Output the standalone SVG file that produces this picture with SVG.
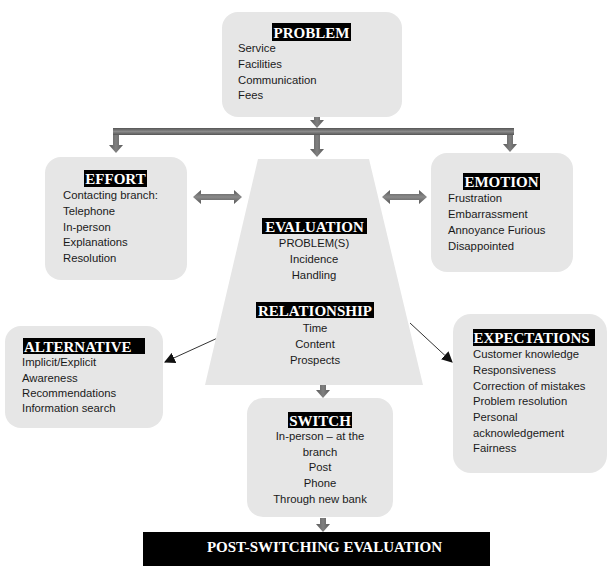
<svg xmlns="http://www.w3.org/2000/svg" width="608" height="566" viewBox="0 0 608 566">
<defs>
<linearGradient id="gv" x1="0" y1="0" x2="0" y2="1"><stop offset="0" stop-color="#555"/><stop offset="0.5" stop-color="#8a8a8a"/><stop offset="1" stop-color="#555"/></linearGradient>
<linearGradient id="gh" x1="0" y1="0" x2="1" y2="0"><stop offset="0" stop-color="#5a5a5a"/><stop offset="0.5" stop-color="#808080"/><stop offset="1" stop-color="#5a5a5a"/></linearGradient>
<marker id="ah" viewBox="0 0 10 10" refX="9" refY="5" markerWidth="11" markerHeight="11" markerUnits="userSpaceOnUse" orient="auto"><path d="M0,0 L10,5 L0,10 z" fill="#111"/></marker>
</defs>
<style>
.box{fill:#e6e6e6}
.hbg{fill:#000}
.h{font-family:"Liberation Serif","Times New Roman",serif;font-weight:bold;font-size:15px;fill:#fff}
.t{font-family:"Liberation Sans",Arial,sans-serif;font-size:11.3px;fill:#1a1a1a}
.c{text-anchor:middle}
.blk{fill:url(#gh)}
.dbl{fill:url(#gv)}
.ln{stroke:#333;stroke-width:1;fill:none}
</style>
<rect width="608" height="566" fill="#fff"/>

<g id="connectors">
<path class="blk" d="M314,116 L320,116 L320,120 L324,120 L317,128 L310,120 L314,120 Z"/>
<rect x="113" y="128" width="401" height="7" fill="url(#gv)"/>
<path class="blk" d="M113,135 L119,135 L119,145 L123,145 L116,153 L109,145 L113,145 Z"/>
<path class="blk" d="M314,135 L320,135 L320,149 L324,149 L317,157 L310,149 L314,149 Z"/>
<path class="blk" d="M507,135 L513,135 L513,144 L517,144 L510,152 L503,144 L507,144 Z"/>
<path class="blk" d="M320,385 L326,385 L326,390 L330,390 L323,398 L316,390 L320,390 Z"/>
<path class="blk" d="M320,518 L326,518 L326,524 L330,524 L323,532 L316,524 L320,524 Z"/>
<path class="dbl" d="M193,197 L201,190 L201,194 L234,194 L234,190 L242,197 L234,204 L234,200 L201,200 L201,204 Z"/>
<path class="dbl" d="M382,197 L390,190 L390,194 L419,194 L419,190 L427,197 L419,204 L419,200 L390,200 L390,204 Z"/>
<line class="ln" x1="222" y1="336" x2="165" y2="362" marker-end="url(#ah)"/>
<line class="ln" x1="410" y1="323" x2="452" y2="362" marker-end="url(#ah)"/>
</g>

<g id="problem">
<rect class="box" x="222" y="12" width="180" height="105" rx="16"/>
<rect class="hbg" x="272" y="23" width="79" height="18"/>
<text class="h c" x="311.5" y="37.5">PROBLEM</text>
<text class="t" x="238" y="52">Service</text>
<text class="t" x="238" y="68">Facilities</text>
<text class="t" x="238" y="84">Communication</text>
<text class="t" x="238" y="99">Fees</text>
</g>

<g id="effort">
<rect class="box" x="45" y="157" width="142" height="123" rx="16"/>
<rect class="hbg" x="84" y="170" width="63" height="17"/>
<text class="h c" x="115.5" y="184">EFFORT</text>
<text class="t" x="63" y="199">Contacting branch:</text>
<text class="t" x="63" y="215">Telephone</text>
<text class="t" x="63" y="231">In-person</text>
<text class="t" x="63" y="246">Explanations</text>
<text class="t" x="63" y="262">Resolution</text>
</g>

<g id="emotion">
<rect class="box" x="431" y="153" width="142" height="119" rx="16"/>
<rect class="hbg" x="463" y="173" width="77" height="17"/>
<text class="h c" x="501.5" y="187">EMOTION</text>
<text class="t" x="448" y="202">Frustration</text>
<text class="t" x="448" y="218">Embarrassment</text>
<text class="t" x="448" y="234">Annoyance Furious</text>
<text class="t" x="448" y="250">Disappointed</text>
</g>

<g id="evaluation">
<polygon class="box" points="258,159 369,159 423,385 205,385"/>
<rect class="hbg" x="262" y="218" width="105" height="16"/>
<text class="h c" x="314.5" y="232">EVALUATION</text>
<text class="t c" x="314" y="247">PROBLEM(S)</text>
<text class="t c" x="314" y="263">Incidence</text>
<text class="t c" x="314" y="279">Handling</text>
</g>

<g id="relationship">
<rect class="hbg" x="256" y="302" width="118" height="16"/>
<text class="h c" x="315" y="316">RELATIONSHIP</text>
<text class="t c" x="315" y="332">Time</text>
<text class="t c" x="315" y="348">Content</text>
<text class="t c" x="315" y="364">Prospects</text>
</g>

<g id="alternative">
<rect class="box" x="5" y="326" width="158" height="102" rx="16"/>
<rect class="hbg" x="23" y="338" width="122" height="16"/>
<text class="h" x="24" y="352">ALTERNATIVE</text>
<text class="t" x="22" y="366">Implicit/Explicit</text>
<text class="t" x="22" y="382">Awareness</text>
<text class="t" x="22" y="397">Recommendations</text>
<text class="t" x="22" y="412">Information search</text>
</g>

<g id="expectations">
<rect class="box" x="453" y="314" width="154" height="159" rx="18"/>
<rect class="hbg" x="473" y="329" width="122" height="17"/>
<text class="h" x="473.5" y="343">EXPECTATIONS</text>
<text class="t" x="473" y="358">Customer knowledge</text>
<text class="t" x="473" y="374">Responsiveness</text>
<text class="t" x="473" y="390">Correction of mistakes</text>
<text class="t" x="473" y="405">Problem resolution</text>
<text class="t" x="473" y="421">Personal</text>
<text class="t" x="473" y="437">acknowledgement</text>
<text class="t" x="473" y="452">Fairness</text>
</g>

<g id="switch">
<rect class="box" x="247" y="398" width="146" height="119" rx="16"/>
<rect class="hbg" x="288" y="412" width="64" height="16"/>
<text class="h c" x="320" y="426">SWITCH</text>
<text class="t c" x="320" y="440">In-person – at the</text>
<text class="t c" x="320" y="456">branch</text>
<text class="t c" x="320" y="471">Post</text>
<text class="t c" x="320" y="487">Phone</text>
<text class="t c" x="320" y="503">Through new bank</text>
</g>

<g id="post-switching">
<rect x="143" y="532" width="347" height="34" fill="#000"/>
<text class="h c" x="324.5" y="552">POST-SWITCHING EVALUATION</text>
</g>
</svg>
